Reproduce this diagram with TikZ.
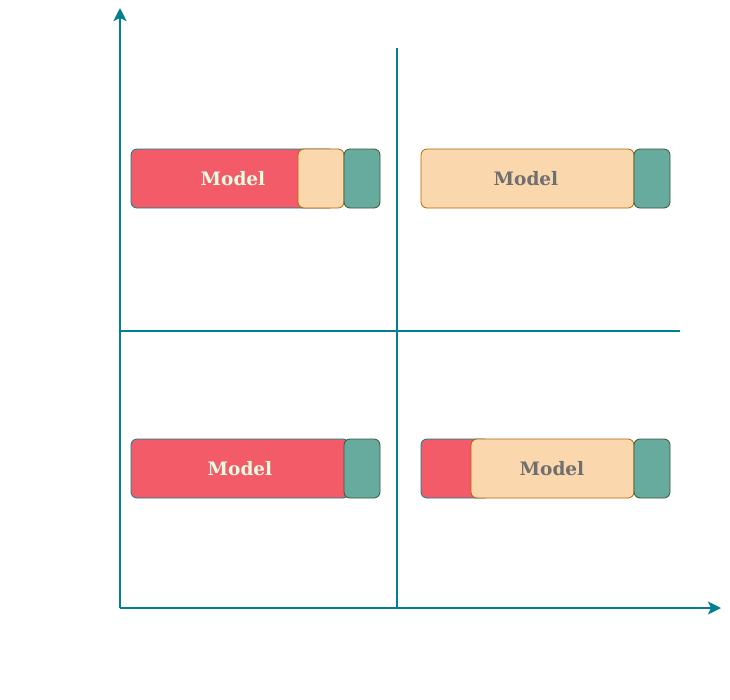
\documentclass[tikz,border=0pt]{standalone}
\usepackage{fontspec}
\newfontfamily\lblfont{DejaVu Serif}
\usetikzlibrary{arrows.meta}
\definecolor{axisc}{HTML}{028090}
\definecolor{redf}{HTML}{F45B69}
\definecolor{peachf}{HTML}{FAD7AC}
\definecolor{peachs}{HTML}{B46504}
\definecolor{tealf}{HTML}{67AB9F}
\definecolor{teals}{HTML}{3A5431}
\definecolor{creamt}{HTML}{E4FDE1}
\definecolor{grayt}{HTML}{6F6F6F}
\tikzset{
  axis/.style={draw=axisc, line width=2.2pt},
  axisarrow/.style={axis, -{Stealth[length=13pt,width=13pt,inset=3pt]}},
  redbox/.style={draw=axisc, fill=redf, rounded corners=6pt, line width=0.8pt},
  peachbox/.style={draw=peachs, fill=peachf, rounded corners=6pt, line width=0.8pt},
  tealbox/.style={draw=teals, fill=tealf, rounded corners=6pt, line width=0.8pt},
  lbl/.style={font=\lblfont\bfseries\fontsize{18.5}{22}\selectfont},
}
\begin{document}
\begin{tikzpicture}[x=1pt,y=-1pt]
\useasboundingbox (0,0) rectangle (730,699);
% axes
\coordinate (o) at (120,608);
\coordinate (ytop) at (120,8);
\coordinate (xend) at (721,608);
\coordinate (vtop) at (397,48);
\coordinate (vbot) at (397,608);
\coordinate (hl) at (120,331);
\coordinate (hr) at (680,331);
\draw[axisarrow] (o) -- (ytop);
\draw[axisarrow] (o) -- (xend);
\draw[axis] (vtop) -- (vbot);
\draw[axis] (hl) -- (hr);
% top-left
\path[redbox] (131,149) rectangle (335,208);
\node[lbl, text=creamt] (tl) at (233,178.5) {Model};
\path[peachbox] (298,149) rectangle (344,208);
\path[tealbox] (344,149) rectangle (380,208);
% top-right
\path[peachbox] (421,149) rectangle (634,208);
\node[lbl, text=grayt] (tr) at (526,178.5) {Model};
\path[tealbox] (634,149) rectangle (670,208);
% bottom-left
\path[redbox] (131,439) rectangle (349,498);
\node[lbl, text=creamt] (bl) at (240,468.5) {Model};
\path[tealbox] (344,439) rectangle (380,498);
% bottom-right
\path[redbox] (421,439) rectangle (490,498);
\path[peachbox] (471,439) rectangle (634,498);
\node[lbl, text=grayt] (br) at (552,468.5) {Model};
\path[tealbox] (634,439) rectangle (670,498);
\end{tikzpicture}
\end{document}
